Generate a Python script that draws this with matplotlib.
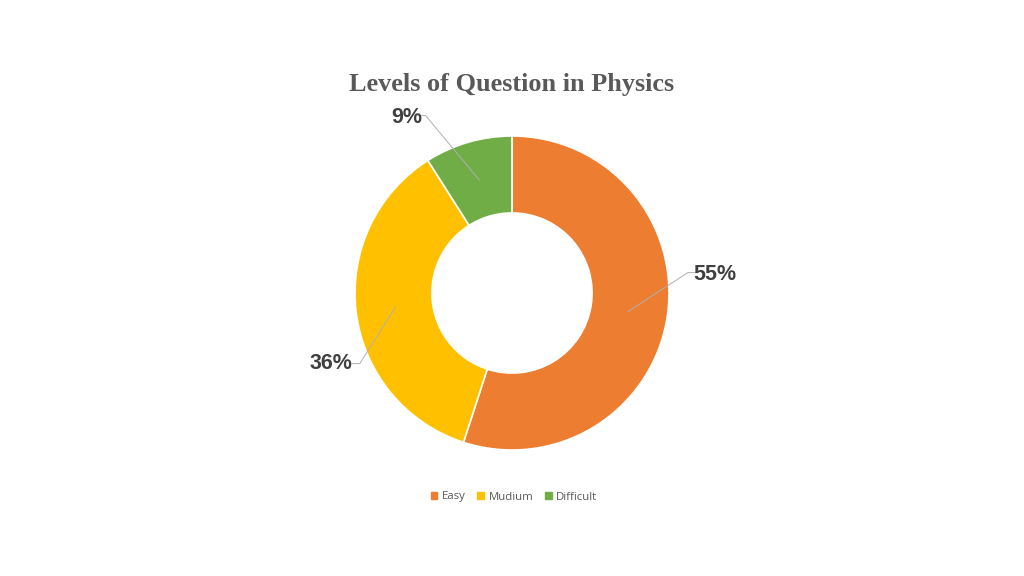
import matplotlib
matplotlib.use("Agg")
import matplotlib.pyplot as plt
import numpy as np

categories = ["Easy", "Mudium", "Difficult"]
shares = [55, 36, 9]
labels = ["55%", "36%", "9%"]
colors = ["#ED7D31", "#FFC000", "#70AD47"]

TEXT = "#595959"
LABEL = "#404040"

fig = plt.figure(figsize=(10.24, 5.76), dpi=100)

# square axes centred on the ring (px: x 355-669, y 136-450)
ax = fig.add_axes([355 / 1024, 126 / 576, 314 / 1024, 314 / 576])
wedges, _ = ax.pie(
    shares,
    colors=colors,
    startangle=90,
    counterclock=False,
    radius=1.0,
    wedgeprops=dict(width=0.49, edgecolor="white", linewidth=1.2),
)
ax.set_xlim(-1, 1)
ax.set_ylim(-1, 1)
ax.set_aspect("equal")
ax.axis("off")

# leader lines and labels (elbow / text offsets in radius units)
elbows = [(1.12, 0.13), (-0.97, -0.45), (-0.55, 1.13)]
texts = [(1.29, 0.12), (-1.15, -0.45), (-0.67, 1.12)]
for w, lab, (ex, ey), (tx, ty) in zip(wedges, labels, elbows, texts):
    mid = np.deg2rad((w.theta1 + w.theta2) / 2)
    sx, sy = 0.75 * np.cos(mid), 0.75 * np.sin(mid)
    hx = ex + (0.05 if ex > 0 else -0.05)
    ax.plot([sx, ex, hx], [sy, ey, ey], color="#B0B0B0", lw=0.7, clip_on=False)
    ax.text(tx, ty, lab, ha="center", va="center", fontsize=15.5,
            fontweight="bold", color=LABEL, family="Liberation Sans")

fig.text(0.5, 1 - 85 / 576, "Levels of Question in Physics", ha="center", va="center",
         fontsize=18.9, fontweight="bold", color=TEXT, family="Liberation Serif")

handles = [plt.Rectangle((0, 0), 1, 1, color=c) for c in colors]
fig.legend(handles, categories, loc="center", bbox_to_anchor=(514 / 1024, 1 - 497 / 576),
           ncol=3, frameon=False, handlelength=0.6, handleheight=0.6,
           handletextpad=0.4, columnspacing=1.0, labelcolor=TEXT,
           prop=dict(family="Open Sans", size=8.2))

fig.savefig("out.png", dpi=100, facecolor="white")
